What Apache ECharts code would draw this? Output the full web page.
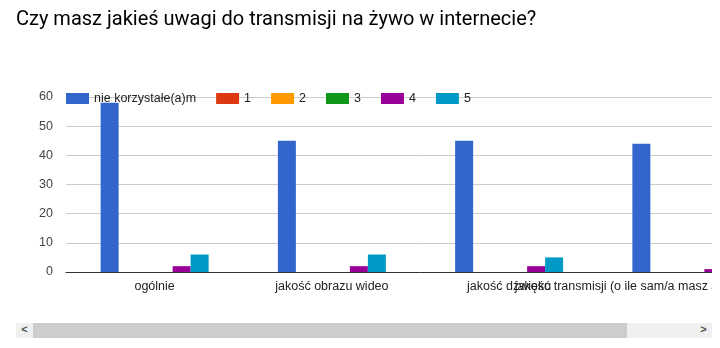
<!DOCTYPE html>
<html>
<head>
<meta charset="utf-8">
<script src="https://cdn.jsdelivr.net/npm/echarts@6/dist/echarts.min.js"></script>
<style>
  html, body { margin: 0; padding: 0; background: #fff; overflow: hidden; }
  #viewport { position: absolute; left: 0; top: 0; width: 712px; height: 348px; overflow: hidden; }
  #chart { position: absolute; left: 0; top: 0; width: 790px; height: 348px; }
  #scroll { position: absolute; left: 16px; top: 323px; width: 696px; height: 15px; background: #f0f0f0; }
  #thumb { position: absolute; left: 17px; top: 0; width: 594px; height: 15px; background: #cdcdcd; }
  .arrow { position: absolute; top: 0; width: 17px; height: 15px; line-height: 15px; text-align: center;
           font: bold 11px "Liberation Sans", Arial, sans-serif; color: #505050; }
</style>
</head>
<body>
<div id="viewport"><div id="chart"></div></div>
<div id="scroll">
  <div class="arrow" style="left:0">&lt;</div>
  <div id="thumb"></div>
  <div class="arrow" style="right:0">&gt;</div>
</div>
<script>
// Answers per aspect of the live stream, by rating
const title = 'Czy masz jakieś uwagi do transmisji na żywo w internecie?';
const categories = [
  'ogólnie',
  'jakość obrazu wideo',
  'jakość dźwięku',
  'jakość transmisji (o ile sam/a masz szybkie łącze internetowe)'
];
const seriesNames = ['nie korzystałe(a)m', '1', '2', '3', '4', '5'];
const notUsed = [58, 45, 45, 44];
const rating1 = [0, 0, 0, 0];
const rating2 = [0, 0, 0, 0];
const rating3 = [0, 0, 0, 0];
const rating4 = [2, 2, 2, 1];
const rating5 = [6, 6, 5, 4];
const yTicks = { min: 0, max: 60, interval: 10 };

const palette = ['#3366cc', '#dc3912', '#ff9900', '#109618', '#990099', '#0099c6'];
const values = [notUsed, rating1, rating2, rating3, rating4, rating5];
const font = '"Liberation Sans", Arial, sans-serif';

const chart = echarts.init(document.getElementById('chart'), null, { renderer: 'canvas' });
chart.setOption({
  animation: false,
  color: palette,
  title: {
    text: title,
    left: 16,
    top: 10,
    padding: 0,
    textStyle: { fontFamily: 'Roboto, sans-serif', fontSize: 20, fontWeight: 'normal', color: '#000' }
  },
  legend: {
    left: 66,
    top: 92,
    padding: 0,
    itemWidth: 23,
    itemHeight: 11,
    itemGap: 20,
    icon: 'rect',
    textStyle: { fontFamily: font, fontSize: 12.5, color: '#222' },
    data: seriesNames
  },
  grid: { left: 66, top: 97, width: 709, bottom: 76, containLabel: false, outerBoundsMode: 'none' },
  xAxis: {
    type: 'category',
    data: categories,
    axisTick: { show: false },
    axisLine: { lineStyle: { color: '#333', width: 1 } },
    axisLabel: { interval: 0, hideOverlap: false, margin: 8, fontFamily: font, fontSize: 12.5, color: '#222' }
  },
  yAxis: {
    type: 'value',
    min: yTicks.min,
    max: yTicks.max,
    interval: yTicks.interval,
    axisLine: { show: false },
    axisTick: { show: false },
    splitLine: { lineStyle: { color: '#cccccc', width: 1 } },
    axisLabel: { margin: 13, fontFamily: font, fontSize: 12.5, color: '#444' }
  },
  series: seriesNames.map((name, i) => ({
    name: name,
    type: 'bar',
    data: values[i],
    barWidth: 18,
    barGap: '0%',
    itemStyle: { color: palette[i] }
  }))
});
</script>
</body>
</html>
